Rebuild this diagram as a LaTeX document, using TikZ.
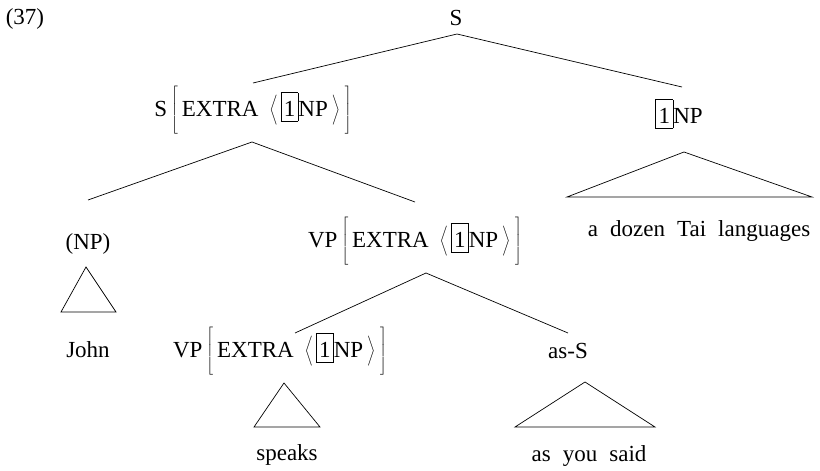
\documentclass[tikz,border=0pt]{standalone}
\usepackage{fontspec}
\setmainfont{Liberation Serif}[WordSpace=2.1]
% boxed tag, as in an AVM
\newcommand{\tagbox}[1]{{\setlength{\fboxsep}{0pt}\setlength{\fboxrule}{0.7pt}%
  \fbox{\rule[-5pt]{0pt}{28pt}\kern2.5pt#1\kern2.5pt}}}
% tall delimiters built with \left ... \right.
\newcommand{\delimset}{\nulldelimiterspace=0pt \delimitershortfall=0pt \delimiterfactor=1000 }
\newcommand{\tallsq}[1]{$\delimset\left#1\rule[-17pt]{0pt}{44pt}\right.$}
\newcommand{\tallang}[1]{$\delimset\left#1\rule[-13pt]{0pt}{36pt}\right.$}
\newcommand{\extralabel}[1]{#1\kern4pt\tallsq[\kern4pt EXTRA\kern11pt\tallang\langle\kern3pt\tagbox{1}NP\kern4pt\tallang\rangle\kern5pt\tallsq]}
\tikzset{
  lbl/.style={inner sep=0pt,anchor=base,font=\fontsize{23}{27}\selectfont},
  branch/.style={line width=0.7pt},
  tri/.style={line width=0.7pt,line join=miter}
}
\begin{document}
\begin{tikzpicture}[x=1pt,y=-1pt]
\useasboundingbox (0,0) rectangle (820,471);
% labels
\node[lbl] (ex) at (25,24) {(37)};
\node[lbl] (root) at (456,25) {S};
\node[lbl] (s2) at (253,116) {\extralabel{S}};
\node[lbl] (np1) at (679,123) {\tagbox{1}NP};
\node[lbl] (tai) at (699,236) {a dozen Tai languages};
\node[lbl] (np0) at (88,249) {(NP)};
\node[lbl] (vp1) at (415,247) {\extralabel{VP}};
\node[lbl] (john) at (88,357) {John};
\node[lbl] (vp2) at (280,357) {\extralabel{VP}};
\node[lbl] (ass) at (568,358) {as-S};
\node[lbl] (speaks) at (287,460) {speaks};
\node[lbl] (said) at (589,461) {as you said};
% branch end points
\coordinate (root-b) at (457,34);
\coordinate (s2-t) at (253,83);
\coordinate (np1-t) at (682,87);
\coordinate (s2-b) at (252,142);
\coordinate (np0-t) at (88,200);
\coordinate (vp1-t) at (415,202);
\coordinate (vp1-b) at (426,273);
\coordinate (vp2-t) at (295,333);
\coordinate (ass-t) at (568,333);
% branches
\draw[branch] (s2-t) -- (root-b) -- (np1-t);
\draw[branch] (np0-t) -- (s2-b) -- (vp1-t);
\draw[branch] (vp2-t) -- (vp1-b) -- (ass-t);
% triangles for unanalysed constituents
\draw[tri] (684,152) -- (567,197) -- (812,197) -- cycle;
\draw[tri] (86,267) -- (61,312) -- (116,312) -- cycle;
\draw[tri] (284,383) -- (254,427) -- (320,427) -- cycle;
\draw[tri] (585,382) -- (515,427) -- (655,427) -- cycle;
\end{tikzpicture}
\end{document}
